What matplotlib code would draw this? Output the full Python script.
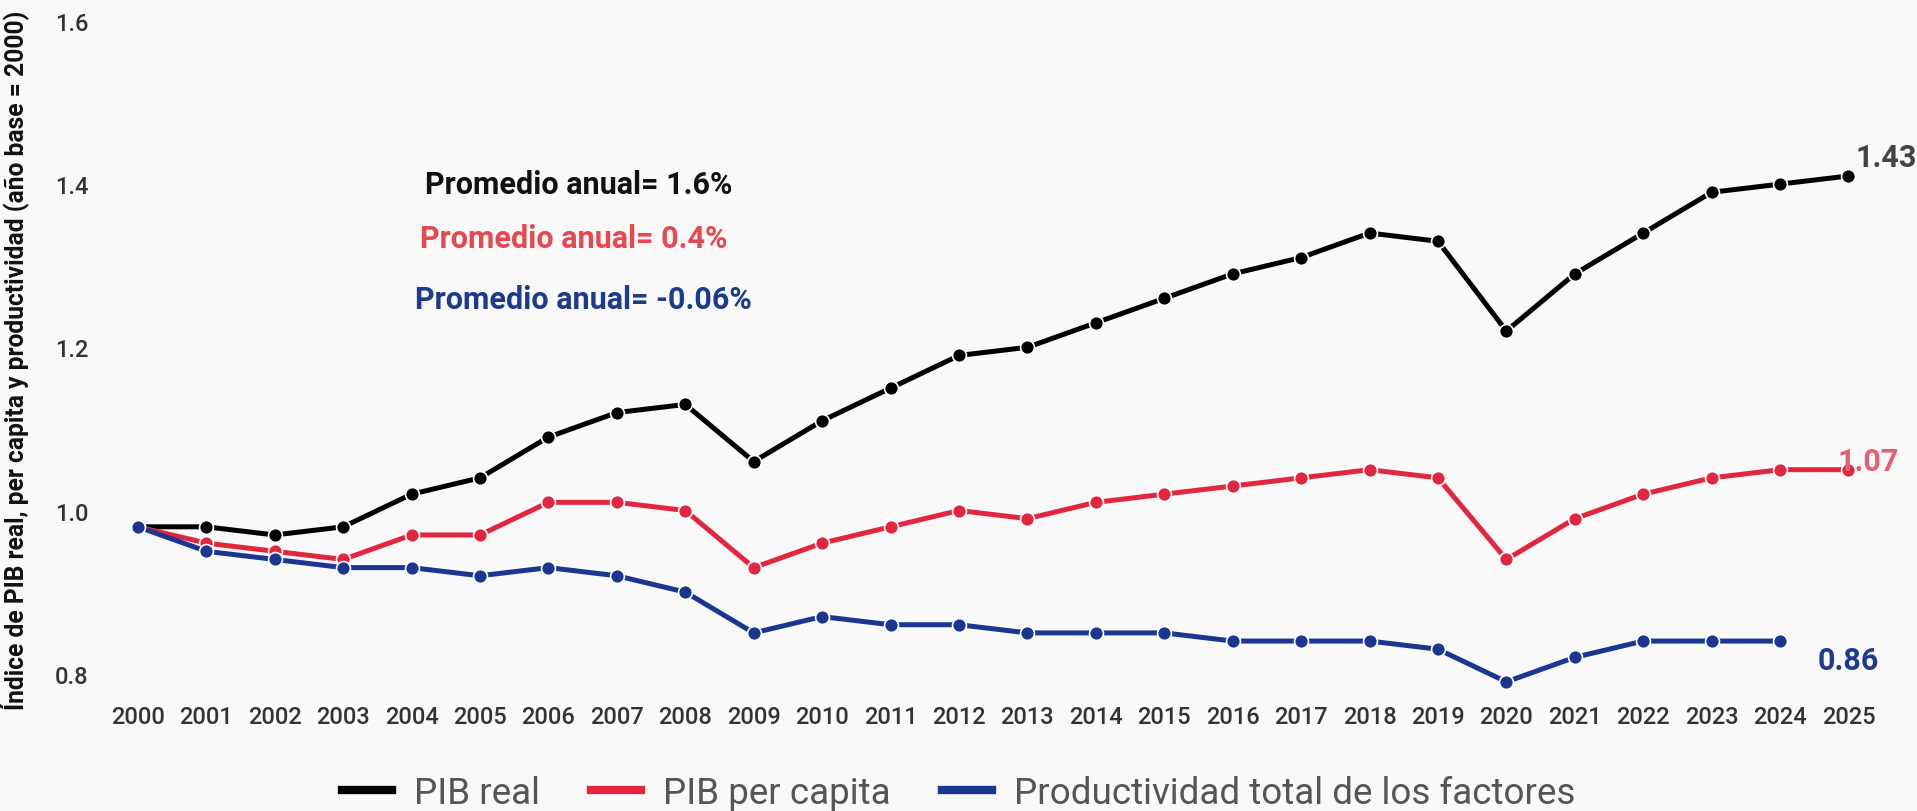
import matplotlib
matplotlib.use('Agg')
import matplotlib.pyplot as plt
from matplotlib.lines import Line2D

# Series (índice, año base = 2000)
years = list(range(2000, 2026))
pib_real = [0.98, 0.98, 0.97, 0.98, 1.02, 1.04, 1.09, 1.12, 1.13, 1.06,
            1.11, 1.15, 1.19, 1.20, 1.23, 1.26, 1.29, 1.31, 1.34, 1.33,
            1.22, 1.29, 1.34, 1.39, 1.40, 1.41]
pib_pc = [0.98, 0.96, 0.95, 0.94, 0.97, 0.97, 1.01, 1.01, 1.00, 0.93,
          0.96, 0.98, 1.00, 0.99, 1.01, 1.02, 1.03, 1.04, 1.05, 1.04,
          0.94, 0.99, 1.02, 1.04, 1.05, 1.05]
ptf_years = list(range(2000, 2025))
ptf = [0.98, 0.95, 0.94, 0.93, 0.93, 0.92, 0.93, 0.92, 0.90, 0.85,
       0.87, 0.86, 0.86, 0.85, 0.85, 0.85, 0.84, 0.84, 0.84, 0.83,
       0.79, 0.82, 0.84, 0.84, 0.84]

series_names = ['PIB real', 'PIB per capita', 'Productividad total de los factores']
promedios = ['1.6%', '0.4%', '-0.06%']
valores_finales = ['1.43', '1.07', '0.86']
y_ticks = [0.8, 1.0, 1.2, 1.4, 1.6]

NEGRO = '#000000'
ROJO = '#e3263f'
AZUL = '#1a3691'

plt.rcParams['font.family'] = ['Roboto', 'DejaVu Sans']

fig = plt.figure(figsize=(19.17, 8.12), dpi=100, facecolor='#f9f9f9')
ax = fig.add_axes([0.0541, 0.149, 0.928, 0.824])
ax.set_facecolor('#f9f9f9')

estilo = dict(linewidth=3.6, marker='o', markersize=10,
              markeredgecolor='white', markeredgewidth=1.2)
ax.plot(years, pib_real, color=NEGRO, zorder=3, **estilo)
ax.plot(years, pib_pc, color=ROJO, zorder=4, **estilo)
ax.plot(ptf_years, ptf, color=AZUL, zorder=5, **estilo)

ax.set_xlim(1999.5, 2025.5)
ax.set_ylim(0.78, 1.6)
ax.set_xticks(years)
ax.set_yticks(y_ticks)
ax.set_yticklabels([f'{v:.1f}' for v in y_ticks])
ax.tick_params(length=0, labelsize=17, labelcolor='#333333', pad=11)
for lbl in ax.get_xticklabels() + ax.get_yticklabels():
    lbl.set_fontweight('medium')
for s in ax.spines.values():
    s.set_visible(False)

ax.set_ylabel('Índice de PIB real, per capita y productividad (año base = 2000)',
              fontweight='bold', fontsize=17.7, color='#111111')
ax.yaxis.set_label_coords(-0.042, 0.494)

# promedios anuales
ax.text(2004.2, 1.40, f'Promedio anual= {promedios[0]}', color='#111111',
        fontsize=22, fontweight='bold', va='center', ha='left')
ax.text(2004.12, 1.334, f'Promedio anual= {promedios[1]}', color='#e5484f',
        fontsize=22, fontweight='bold', va='center', ha='left')
ax.text(2004.05, 1.259, f'Promedio anual= {promedios[2]}', color='#1e3a8c',
        fontsize=22, fontweight='bold', va='center', ha='left')

# valores al final de cada serie
ax.text(2025.1, 1.433, valores_finales[0], color='#444444', fontsize=22,
        fontweight='bold', va='center', ha='left', clip_on=False)
ax.text(2024.84, 1.061, valores_finales[1], color='#e36073', fontsize=22,
        fontweight='bold', va='center', ha='left', clip_on=False, zorder=6)
ax.text(2024.55, 0.817, valores_finales[2], color='#1e3a8c', fontsize=22,
        fontweight='bold', va='center', ha='left', clip_on=False)

handles = [Line2D([], [], color=c, linewidth=6) for c in (NEGRO, ROJO, AZUL)]
fig.legend(handles, series_names, loc='center', bbox_to_anchor=(0.5, 0.022),
           ncol=3, frameon=False, handlelength=1.35, handletextpad=0.6,
           columnspacing=1.4, prop={'size': 26.5}, labelcolor='#555555')

fig.savefig('out.png', dpi=100, facecolor=fig.get_facecolor())
